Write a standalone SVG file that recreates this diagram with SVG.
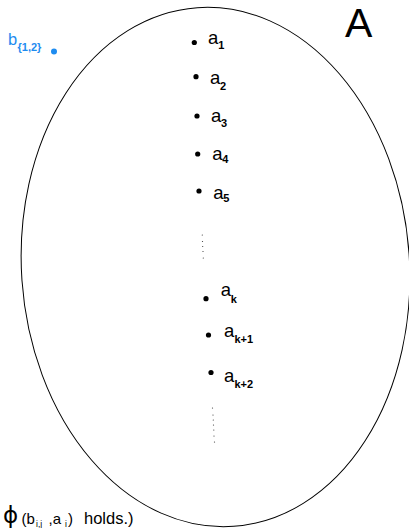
<svg xmlns="http://www.w3.org/2000/svg" width="409" height="528" viewBox="0 0 409 528">
<style>
.t{font-family:"Liberation Sans",Arial,sans-serif;fill:#000}
.m{font-size:18.5px}
.s{font-size:11px;font-weight:bold}
.pt{fill:#000}
.tiny{fill:#333}
.blue{fill:#1E8CF0}
</style>
<rect width="409" height="528" fill="#fff"/>
<g id="setA">
<ellipse cx="215.5" cy="267" rx="194" ry="260" transform="rotate(-4 215.5 267)" fill="none" stroke="#000" stroke-width="1"/>
<text class="t" x="345" y="37" font-size="41">A</text>
</g>
<g id="b12">
<circle class="blue" cx="54" cy="51.5" r="3"/>
<text class="t blue" x="8" y="45" font-size="16.5">b</text>
<text class="t s blue" x="17.5" y="50.5">{1,2}</text>
</g>
<g id="a1"><circle class="pt" cx="194.3" cy="42.5" r="2.6"/><text class="t m" x="208" y="44">a</text><text class="t s" x="218.3" y="48.5">1</text></g>
<g id="a2"><circle class="pt" cx="196" cy="76.7" r="2.6"/><text class="t m" x="210" y="83.5">a</text><text class="t s" x="220" y="90">2</text></g>
<g id="a3"><circle class="pt" cx="197" cy="116" r="2.6"/><text class="t m" x="211" y="121.5">a</text><text class="t s" x="221" y="126.5">3</text></g>
<g id="a4"><circle class="pt" cx="197.7" cy="154" r="2.6"/><text class="t m" x="212.3" y="160">a</text><text class="t s" x="222.3" y="163.3">4</text></g>
<g id="a5"><circle class="pt" cx="199" cy="191" r="2.6"/><text class="t m" x="213.3" y="199">a</text><text class="t s" x="223.3" y="201.5">5</text></g>
<g id="dots1">
<circle class="tiny" cx="202.3" cy="235" r="0.6"/><circle class="tiny" cx="202.5" cy="241.5" r="0.6"/><circle class="tiny" cx="202.7" cy="246.5" r="0.6"/><circle class="tiny" cx="203" cy="251.5" r="0.6"/><circle class="tiny" cx="203.3" cy="258" r="0.6"/>
</g>
<g id="ak"><circle class="pt" cx="206" cy="298.7" r="2.6"/><text class="t m" x="220.7" y="296">a</text><text class="t s" x="230.7" y="302.5">k</text></g>
<g id="ak1"><circle class="pt" cx="208.5" cy="335" r="2.6"/><text class="t m" x="224" y="337">a</text><text class="t s" x="234.5" y="343">k+1</text></g>
<g id="ak2"><circle class="pt" cx="211" cy="372.5" r="2.6"/><text class="t m" x="224" y="381.5">a</text><text class="t s" x="234.5" y="388">k+2</text></g>
<g id="dots2">
<circle class="tiny" cx="212.5" cy="408" r="0.6"/><circle class="tiny" cx="213" cy="415" r="0.6"/><circle class="tiny" cx="213.3" cy="420" r="0.6"/><circle class="tiny" cx="213.5" cy="425" r="0.6"/><circle class="tiny" cx="213.8" cy="430" r="0.6"/><circle class="tiny" cx="214" cy="436" r="0.6"/><circle class="tiny" cx="214.5" cy="442" r="0.6"/>
</g>
<g id="caption">
<text x="3" y="523" font-family="'DejaVu Sans',sans-serif" font-size="23">ϕ</text>
<text class="t" y="523.5" font-size="15"><tspan x="21.5">(b</tspan></text>
<text class="t" x="36" y="527" font-size="8.5">i,j</text>
<text class="t" y="523.5" font-size="15"><tspan x="48.5">,a</tspan></text>
<text class="t" x="65" y="527" font-size="8.5">i</text>
<text class="t" y="523.5" font-size="15"><tspan x="68">)</tspan></text>
<text class="t" x="84" y="524" font-size="16.5">holds.)</text>
</g>
</svg>
